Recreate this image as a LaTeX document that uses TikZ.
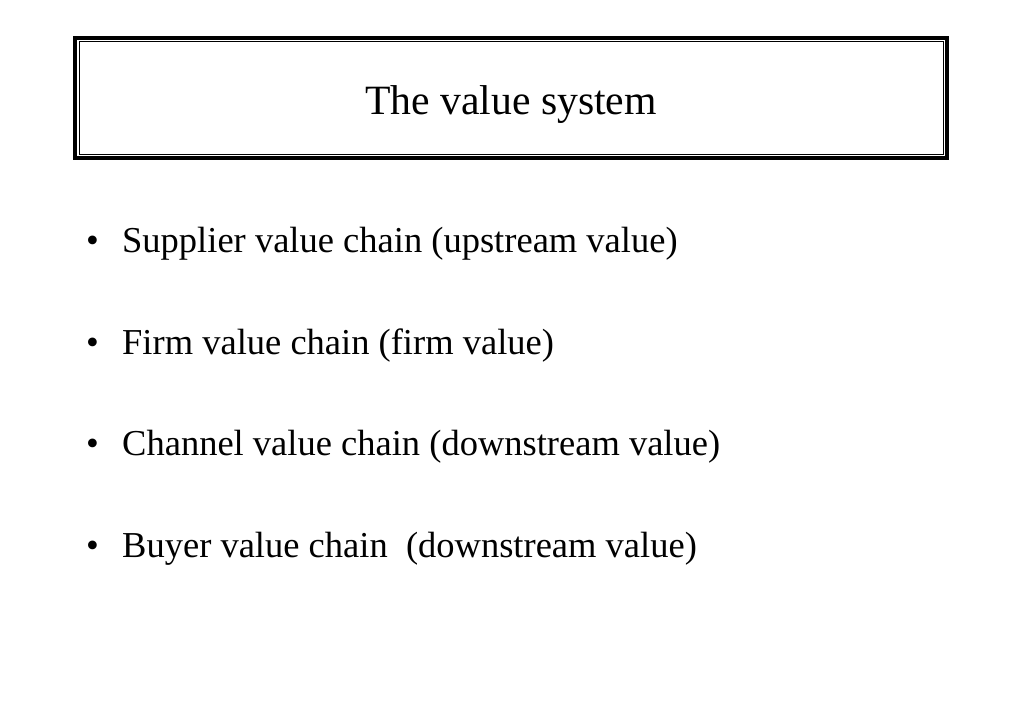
\documentclass[tikz,border=0pt]{standalone}
\usepackage{fontspec}
\setmainfont{Liberation Serif}
\begin{document}
\begin{tikzpicture}[x=1pt,y=-1pt,
  titletext/.style={font=\fontsize{41.7}{50}\selectfont, anchor=base, inner sep=0pt},
  itemtext/.style={font=\fontsize{36.5}{44}\selectfont, anchor=base west, inner sep=0pt},
  bulletmark/.style={font=\fontsize{36.5}{44}\selectfont, anchor=base, inner sep=0pt},
  outerframe/.style={draw=black, line width=4pt},
  innerframe/.style={draw=black, line width=1.2pt}]
\useasboundingbox (0,0) rectangle (1023,708);
\fill[white] (0,0) rectangle (1023,708);
% title frame
\draw[outerframe] (75.3,38) rectangle (947,158);
\draw[innerframe] (79.8,41.5) rectangle (943.8,154.2);
\node[titletext] (title) at (511,115) {The value system};
% bullets
\node[bulletmark] (b1) at (92.5,253) {•};
\node[itemtext] (t1) at (122,253) {Supplier value chain (upstream value)};
\node[bulletmark] (b2) at (92.5,354.5) {•};
\node[itemtext] (t2) at (122,354.5) {Firm value chain (firm value)};
\node[bulletmark] (b3) at (92.5,456) {•};
\node[itemtext] (t3) at (122,456) {Channel value chain (downstream value)};
\node[bulletmark] (b4) at (92.5,557.5) {•};
\node[itemtext] (t4) at (122,557.5) {Buyer value chain\ \ (downstream value)};
\end{tikzpicture}
\end{document}
